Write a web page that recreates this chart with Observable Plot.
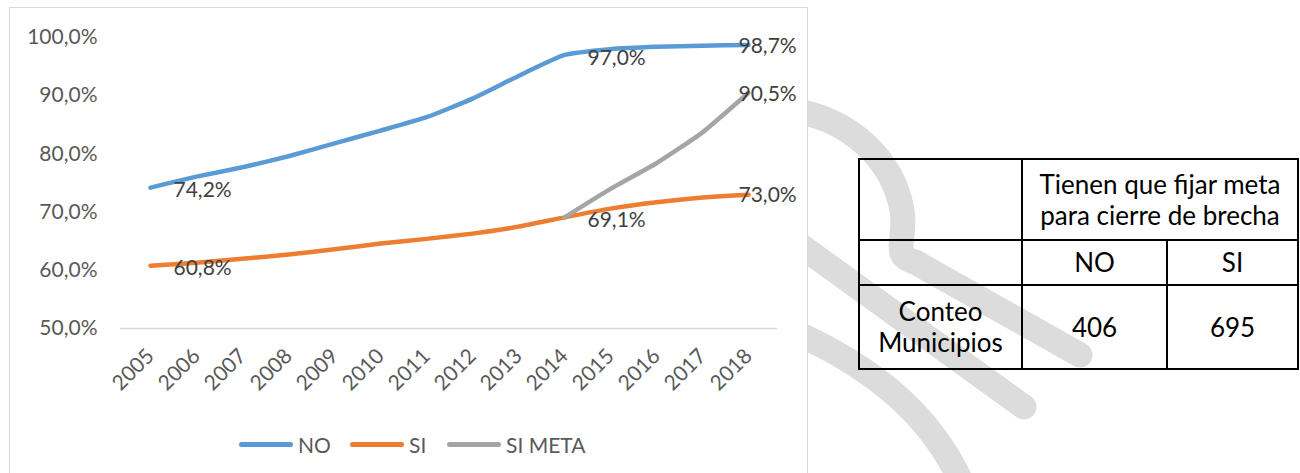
<!DOCTYPE html>
<html>
<head>
<meta charset="utf-8">
<script src="https://cdn.jsdelivr.net/npm/d3@7"></script>
<script src="https://cdn.jsdelivr.net/npm/@observablehq/plot@0.6"></script>
<style>
  html, body { margin: 0; padding: 0; background: #fff; width: 1300px; height: 473px; overflow: hidden; }
  #wm { position: absolute; left: 0; top: 0; z-index: 0; }
  #box { position: absolute; left: 9px; top: 7px; width: 797px; height: 520px; border: 1.5px solid #d9d9d9; background: #fff; z-index: 1; }
  #chart { position: absolute; left: -10px; top: -8px; }
  #legend { position: absolute; top: 418px; left: 0; width: 797px; height: 36px; font-family: Lato, sans-serif; font-size: 21px; color: #595959; }
  .lg { position: absolute; top: 0; display: flex; align-items: center; height: 36px; }
  .sw { width: 54px; height: 5px; border-radius: 3px; margin-right: 5px; }
  #tbl { position: absolute; left: 858px; top: 158px; z-index: 2; border-collapse: collapse; font-family: Lato, sans-serif; font-size: 26px; color: #000; background: transparent; }
  #tbl td { border: 2.5px solid #000; text-align: center; padding: 0; line-height: 31px; }
</style>
</head>
<body>
<svg id="wm" width="1300" height="473">
  <g fill="none" stroke="#dcdcdc" stroke-width="25" stroke-linecap="round">
    <path d="M 790,110 C 850,118 893,160 902,210 C 907,240 890,255 915,262 L 1080,355"/>
    <path d="M 790,238 L 1024,407"/>
    <path d="M 790,330 C 880,370 935,420 965,490"/>
  </g>
</svg>
<div id="box">
  <div id="chart"></div>
  <div id="legend"></div>
</div>
<table id="tbl"></table>
<script>
const years = ["2005","2006","2007","2008","2009","2010","2011","2012","2013","2014","2015","2016","2017","2018"];
const seriesNames = ["NO", "SI", "SI META"];
const seriesColors = ["#5B9BD5", "#ED7D31", "#A5A5A5"];
const noValues = [74.2, 76.1, 77.7, 79.6, 81.8, 84.0, 86.3, 89.5, 93.4, 97.0, 98.0, 98.4, 98.6, 98.7];
const siValues = [60.8, 61.3, 62.0, 62.7, 63.6, 64.6, 65.4, 66.3, 67.5, 69.1, 70.6, 71.7, 72.5, 73.0];
const siMetaValues = [null, null, null, null, null, null, null, null, null, 69.1, 74.0, 78.4, 83.7, 90.5];
const yTicks = [50, 60, 70, 80, 90, 100];
const labeledInner = [["NO","2005"],["NO","2014"],["SI","2005"],["SI","2014"]];
const labeledEnd = [["NO","2018"],["SI","2018"],["SI META","2018"]];
const tableHeader = "Tienen que fijar meta para cierre de brecha";
const tableCols = ["NO", "SI"];
const tableRowLabel = "Conteo Municipios";
const tableCounts = [406, 695];

const fmt = v => v.toFixed(1).replace(".", ",") + "%";
const valuesBySeries = {"NO": noValues, "SI": siValues, "SI META": siMetaValues};
const rows = [];
seriesNames.forEach(s => years.forEach((yr, i) => {
  const v = valuesBySeries[s][i];
  if (v != null) rows.push({series: s, year: yr, value: v});
}));
const pick = list => list.map(([s, yr]) => rows.find(r => r.series === s && r.year === yr));

const chart = Plot.plot({
  width: 807,
  height: 410,
  marginLeft: 120,
  marginRight: 30,
  marginTop: 37,
  marginBottom: 82,
  style: {fontFamily: "Lato, sans-serif", background: "transparent", overflow: "visible"},
  x: {type: "point", domain: years, padding: 0.5},
  y: {domain: [50, 100]},
  color: {domain: seriesNames, range: seriesColors},
  marks: [
    Plot.ruleY([50], {stroke: "#d9d9d9", strokeWidth: 1.5}),
    Plot.axisY({ticks: yTicks, tickFormat: fmt, tickSize: 0, tickPadding: 23, fontSize: 21, fill: "#595959", label: null}),
    Plot.axisX({tickRotate: -45, tickSize: 0, tickPadding: 24, fontSize: 21, fill: "#595959", label: null}),
    Plot.line(rows, {x: "year", y: "value", z: "series", stroke: "series", strokeWidth: 4.5, curve: "cardinal", tension: 0.5, strokeLinecap: "round"}),
    Plot.text(pick(labeledInner), {x: "year", y: "value", text: d => fmt(d.value), textAnchor: "start", dx: 23, dy: 3, fontSize: 21, fill: "#404040"}),
    Plot.text(pick(labeledEnd), {x: "year", y: "value", text: d => fmt(d.value), textAnchor: "start", dx: -10, dy: 1, fontSize: 21, fill: "#404040"})
  ]
});
document.getElementById("chart").appendChild(chart);

// legend
const legend = document.getElementById("legend");
const legendLeft = [229, 340, 437];
seriesNames.forEach((s, i) => {
  const item = document.createElement("div");
  item.className = "lg";
  item.style.left = legendLeft[i] + "px";
  const sw = document.createElement("div");
  sw.className = "sw";
  sw.style.background = seriesColors[i];
  item.appendChild(sw);
  const t = document.createElement("span");
  t.textContent = s;
  item.appendChild(t);
  legend.appendChild(item);
});

// table
const tbl = document.getElementById("tbl");
const colW = [161, 143, 129];
const r1 = tbl.insertRow();
let c = r1.insertCell(); c.style.width = colW[0] + "px"; c.style.height = "79px";
c = r1.insertCell(); c.colSpan = 2; c.textContent = tableHeader; c.style.padding = "0 4px";
const r2 = tbl.insertRow();
c = r2.insertCell(); c.style.height = "43px";
tableCols.forEach((t, i) => { const cc = r2.insertCell(); cc.textContent = t; cc.style.width = colW[i + 1] + "px"; });
const r3 = tbl.insertRow();
c = r3.insertCell(); c.textContent = tableRowLabel; c.style.height = "82px"; c.style.padding = "0 4px";
tableCounts.forEach(v => { const cc = r3.insertCell(); cc.textContent = v; });
</script>
</body>
</html>
